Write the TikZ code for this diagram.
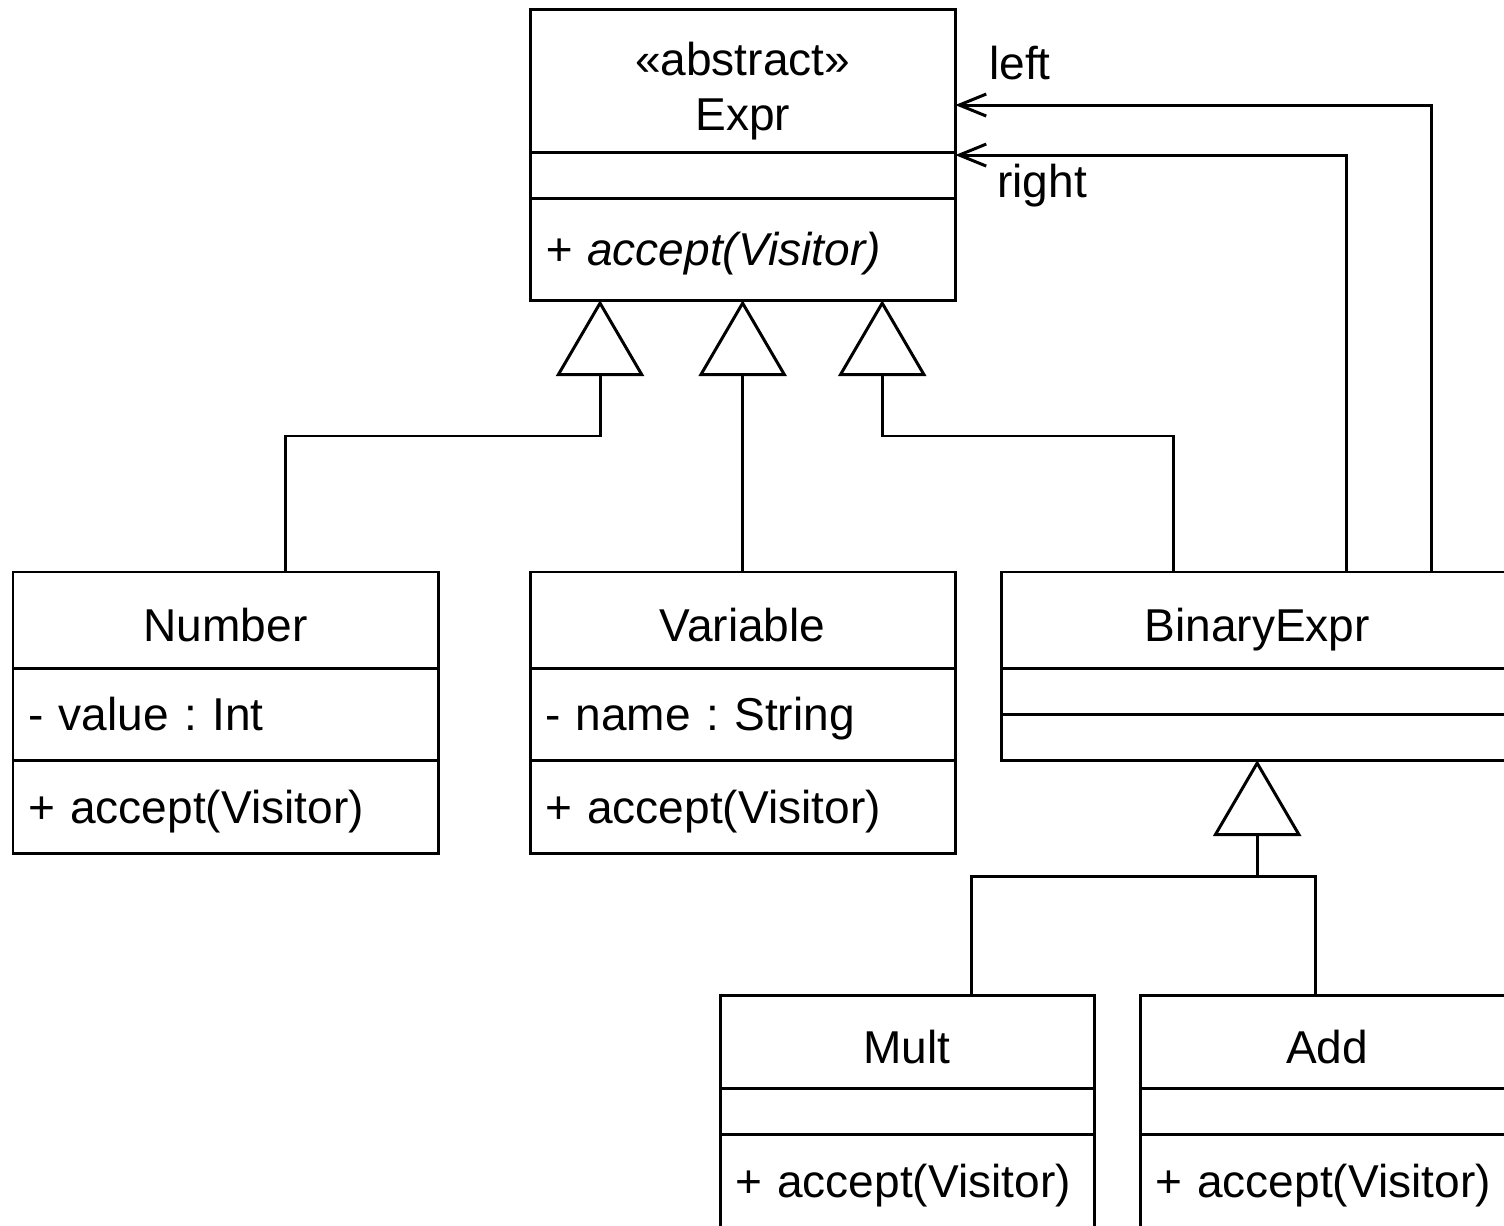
\documentclass[tikz,border=0pt]{standalone}
\usepackage{fontspec}
\setmainfont{Liberation Sans}
\usetikzlibrary{positioning,arrows.meta}
\frenchspacing

\tikzset{
  uml/.style={draw, line width=0.85pt, outer sep=0pt, inner sep=0pt,
    font=\fontsize{13.1}{15.6}\selectfont},
  head/.style={uml, minimum width=#1, minimum height=0.96cm,
    text height=12.4pt, text depth=0pt},
  memb/.style={uml, text width=#1, align=left, inner xsep=0.15cm,
    minimum height=0.92cm, text height=9.4pt, text depth=0pt},
  slot/.style={uml, minimum width=#1, minimum height=0.46cm},
  inherit/.style={line width=0.85pt, -{Triangle[open, length=0.76cm, width=0.88cm]}},
  assoc/.style={line width=0.85pt, -{Straight Barb[length=0.27cm, width=0.22cm]}},
  lbl/.style={inner sep=0pt, font=\fontsize{13.1}{15.6}\selectfont}
}

\begin{document}
\begin{tikzpicture}[x=0.01cm, y=-0.01cm]
  \useasboundingbox (0,0) rectangle (1504,1225);
  \clip (0,0) rectangle (1504,1225);

  % abstract base class
  \node[uml, minimum width=4.25cm, minimum height=1.42cm, align=center,
    anchor=north west] (exprH) at (530,10) {\rule{0pt}{0.54cm}«abstract»\\Expr};
  \node[slot=4.25cm, below=0pt of exprH] (exprA) {};
  \node[memb=3.95cm, minimum height=1.02cm, below=0pt of exprA] (exprO)
    {\itshape + accept(Visitor)};

  % subclasses
  \node[head=4.25cm, anchor=north west] (numH) at (13,572) {Number};
  \node[memb=3.95cm, below=0pt of numH] (numA) {- value : Int};
  \node[memb=3.95cm, minimum height=0.93cm, below=0pt of numA] (numO) {+ accept(Visitor)};

  \node[head=4.25cm, anchor=north west] (varH) at (530,572) {Variable};
  \node[memb=3.95cm, below=0pt of varH] (varA) {- name : String};
  \node[memb=3.95cm, minimum height=0.93cm, below=0pt of varA] (varO) {+ accept(Visitor)};

  \node[head=5.12cm, anchor=north west] (binH) at (1001,572) {BinaryExpr};
  \node[slot=5.12cm, below=0pt of binH] (binA) {};
  \node[slot=5.12cm, below=0pt of binA] (binO) {};

  \node[head=3.74cm, minimum height=0.93cm, anchor=north west] (mulH) at (720,995) {Mult};
  \node[slot=3.74cm, below=0pt of mulH] (mulA) {};
  \node[memb=3.44cm, minimum height=0.93cm, below=0pt of mulA] (mulO) {+ accept(Visitor)};

  \node[head=3.74cm, minimum height=0.93cm, anchor=north west] (addH) at (1140,995) {Add};
  \node[slot=3.74cm, below=0pt of addH] (addA) {};
  \node[memb=3.44cm, minimum height=0.93cm, below=0pt of addA] (addO) {+ accept(Visitor)};

  % generalisation
  \draw[inherit] ([xshift=0.595cm]numH.north) -- ++(0,-136) -| ([xshift=-1.425cm]exprO.south);
  \draw[inherit] (varH.north) -- (exprO.south);
  \draw[inherit] ([xshift=-0.84cm]binH.north) -- ++(0,-136) -| ([xshift=1.395cm]exprO.south);
  \draw[inherit] ([xshift=0.64cm]mulH.north) |- ([yshift=-1.16cm]binO.south) -- (binO.south);
  \draw[line width=0.85pt] ([xshift=-0.12cm]addH.north) |- ([yshift=-1.16cm]binO.south);

  % operands
  \draw[assoc] ([xshift=1.74cm]binH.north) |- node[lbl, pos=0.932, above=0.24cm] {left}
    ([yshift=-0.24cm]exprH.east);
  \draw[assoc] ([xshift=0.89cm]binH.north) |- node[lbl, pos=0.889, below=0.08cm] {right}
    ([yshift=-0.03cm]exprH.south east);
\end{tikzpicture}
\end{document}
